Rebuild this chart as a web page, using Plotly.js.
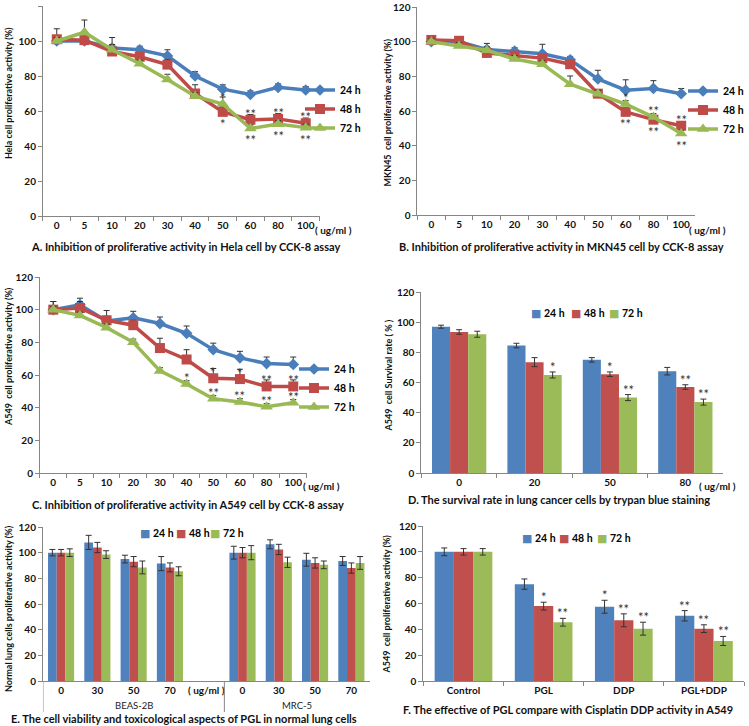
<!DOCTYPE html>
<html><head><meta charset="utf-8">
<script src="https://cdn.plot.ly/plotly-3.0.1.min.js"></script>
<style>html,body{margin:0;padding:0;background:#fff}#chart{width:749px;height:726px}</style>
</head><body><div id="chart"></div>
<script>
// ---------------- DATA ----------------
const seriesNames = ['24 h', '48 h', '72 h'];
const doses = ['0', '5', '10', '20', '30', '40', '50', '60', '80', '100'];

// A. Hela (CCK-8)
const helaVals24 = [100, 100, 96, 95, 91.5, 80, 72.5, 69.5, 73.5, 72];
const helaVals48 = [101, 100.5, 94, 91, 86.5, 70, 59.5, 55, 55.5, 53];
const helaVals72 = [100, 105, 95, 87, 78, 68.5, 64, 50, 52.5, 50.5];
const helaErr24 = [3, 2, 6, 2, 3.5, 2.5, 2.5, 2, 2, 2];
const helaErr48 = [6, 2, 2, 2, 3, 5, 3, 3, 3, 3];
const helaErr72 = [2, 7, 3, 2, 3, 2, 4, 2, 2, 2];
const helaStars = [[1, '50', '*', -1], [1, '60', '**', 1], [1, '80', '**', 1], [1, '100', '**', 1],
                   [2, '50', '*', 1], [2, '60', '**', -1], [2, '80', '**', -1], [2, '100', '**', -1]];

// B. MKN45 (CCK-8)
const mknVals24 = [100, 100, 95.5, 94.5, 93, 89.5, 78.5, 72, 73, 70];
const mknVals48 = [101, 100.5, 93.5, 92, 90.5, 87, 70, 59.5, 55, 51.5];
const mknVals72 = [100, 97.5, 95, 90, 87, 75.5, 70, 64, 56.5, 47];
const mknErr24 = [2, 2, 3.5, 2, 5.5, 2, 5, 6, 4.5, 3];
const mknErr48 = [2, 2, 2, 2, 2, 2, 2, 2, 2, 2];
const mknErr72 = [2, 2, 2, 2, 2, 4.7, 2, 2, 2, 2];
const mknStars = [[2, '60', '*', 1], [1, '60', '**', -1], [1, '80', '**', -1], [1, '100', '**', 1],
                  [2, '80', '**', 1], [2, '100', '**', -1]];

// C. A549 (CCK-8)
const a549Vals24 = [100, 103, 93, 95, 91.5, 85.5, 75.5, 70.5, 67, 66.5];
const a549Vals48 = [100, 101, 93.5, 90.5, 76.5, 69.5, 58, 57.5, 53, 53];
const a549Vals72 = [100, 96.5, 89, 80, 62.5, 54.5, 45.5, 43.5, 40.5, 43];
const a549Err24 = [5, 4, 3, 4, 4, 4.5, 4, 4, 4, 4.5];
const a549Err48 = [5, 4, 6, 3, 6, 6, 6, 6, 4, 4];
const a549Err72 = [2, 2, 2, 2, 2, 2, 2, 2, 2, 2];
const a549Stars = [[1, '50', '*', 1], [1, '60', '*', 1], [1, '80', '**', 1], [1, '100', '**', 1],
                   [2, '40', '*', 1], [2, '50', '**', 1], [2, '60', '**', 1], [2, '80', '**', 1], [2, '100', '**', 1]];

// D. Trypan blue survival
const trypanDoses = ['0', '20', '50', '80'];
const survival24 = [97, 84.5, 75, 67.5];
const survival48 = [93.5, 73.5, 65.5, 57];
const survival72 = [92, 65, 50, 47];
const survErr24 = [1, 1.5, 1.5, 2.5];
const survErr48 = [1.5, 3, 1.5, 1.5];
const survErr72 = [2, 2, 2, 2];
const survStars = [[2, '20', '*'], [1, '50', '*'], [2, '50', '**'], [1, '80', '**'], [2, '80', '**']];

// E. Normal lung cells
const normalGroups = ['BEAS-2B', 'BEAS-2B', 'BEAS-2B', 'BEAS-2B', 'BEAS-2B', 'MRC-5', 'MRC-5', 'MRC-5', 'MRC-5'];
const normalDoses = ['0', '30', '50', '70', '( ug/ml )', '0', '30', '50', '70'];
const normal24 = [100, 108, 95, 91.5, null, 100, 106.5, 94.5, 93.5];
const normal48 = [100, 104, 93, 88.5, null, 100, 102.5, 92, 88];
const normal72 = [100, 98.5, 88.5, 85.5, null, 100, 92.5, 90.5, 92];
const normalErr24 = [2.5, 5.5, 3, 5.5, 0, 5, 3.5, 5, 3.5];
const normalErr48 = [2.5, 4, 4, 3.5, 0, 4, 4, 4, 4];
const normalErr72 = [3, 3, 5, 3.5, 0, 5.5, 4, 3, 5];

// F. PGL vs DDP
const treatments = ['Control', 'PGL', 'DDP', 'PGL+DDP'];
const prolif24 = [100, 75, 57.5, 50.5];
const prolif48 = [100, 58, 47, 40.5];
const prolif72 = [100, 45.5, 40.5, 31];
const prolifErr24 = [3, 4, 5, 4];
const prolifErr48 = [2.5, 3, 5, 3];
const prolifErr72 = [2.5, 3, 5, 3.5];
const prolifStars = [[1, 'PGL', '*'], [2, 'PGL', '**'], [0, 'DDP', '*'], [1, 'DDP', '**'], [2, 'DDP', '**'],
                     [0, 'PGL+DDP', '**'], [1, 'PGL+DDP', '**'], [2, 'PGL+DDP', '**']];

// ---------------- STYLE / LAYOUT ----------------
const W = 749, H = 726;
const px = v => v / W, py = v => 1 - v / H;
const lineColors = ['#4A7EBB', '#BE4B48', '#98B954'];
const barColors = ['#4F81BD', '#C0504D', '#9BBB59'];
const symbols = ['diamond', 'square', 'triangle-up'];
const msizes = [9, 10, 11];
const FONT = 'Lato, "Open Sans", "DejaVu Sans", sans-serif';
const bold = (size, color) => ({family: FONT, size: size, color: color || '#111', weight: 700});
const BARGAP = 0.28;

// unique category keys for panel E (group + dose), shown with the dose text
const normalKeys = normalGroups.map((g, i) => g + '|' + normalDoses[i]);

// plot areas in pixels: [x0, x1], [yTop, yBottom]
const areas = {
  A: {xa: 'x',  ya: 'y',  x: [43, 320],  y: [6, 216],   n: doses.length},
  B: {xa: 'x2', ya: 'y2', x: [418, 696], y: [7, 215],   n: doses.length},
  C: {xa: 'x3', ya: 'y3', x: [40, 307],  y: [277, 473], n: doses.length},
  D: {xa: 'x4', ya: 'y4', x: [422, 724], y: [292, 473], n: trypanDoses.length},
  E: {xa: 'x5', ya: 'y5', x: [43, 370],  y: [527, 681], n: normalKeys.length},
  F: {xa: 'x6', ya: 'y6', x: [424, 745], y: [526, 681], n: treatments.length}
};

const traces = [];
function lineTraces(area, legendId, vals, errs) {
  vals.forEach((v, i) => traces.push({
    type: 'scatter', mode: 'lines+markers', x: doses, y: v, name: seriesNames[i],
    xaxis: area.xa, yaxis: area.ya, legend: legendId,
    line: {color: lineColors[i], width: 3.5},
    marker: {symbol: symbols[i], size: msizes[i], color: lineColors[i]},
    error_y: {type: 'data', symmetric: false, array: errs[i], arrayminus: errs[i].map(() => 0),
              color: '#333', thickness: 1, width: 3},
    cliponaxis: false, hoverinfo: 'skip'
  }));
}
function barTraces(area, x, vals, errs) {
  vals.forEach((v, i) => traces.push({
    type: 'bar', x: x, y: v, name: seriesNames[i], xaxis: area.xa, yaxis: area.ya, showlegend: false,
    marker: {color: barColors[i], line: {width: 0}},
    error_y: {type: 'data', array: errs[i], color: '#333', thickness: 1, width: 3},
    hoverinfo: 'skip'
  }));
}
lineTraces(areas.A, 'legend', [helaVals24, helaVals48, helaVals72], [helaErr24, helaErr48, helaErr72]);
lineTraces(areas.B, 'legend2', [mknVals24, mknVals48, mknVals72], [mknErr24, mknErr48, mknErr72]);
lineTraces(areas.C, 'legend3', [a549Vals24, a549Vals48, a549Vals72], [a549Err24, a549Err48, a549Err72]);
barTraces(areas.D, trypanDoses, [survival24, survival48, survival72], [survErr24, survErr48, survErr72]);
barTraces(areas.E, normalKeys, [normal24, normal48, normal72], [normalErr24, normalErr48, normalErr72]);
barTraces(areas.F, treatments, [prolif24, prolif48, prolif72], [prolifErr24, prolifErr48, prolifErr72]);

const annotations = [];
function ann(xPx, yPx, text, font, extra) {
  annotations.push(Object.assign({xref: 'paper', yref: 'paper', x: px(xPx), y: py(yPx), text: text,
    showarrow: false, xanchor: 'center', yanchor: 'middle', font: font}, extra || {}));
}
// y-axis titles
ann(8, 93, 'Hela cell proliferative activity (%)', bold(9), {textangle: -90});
ann(388, 112, 'MKN45  cell proliferative activity (%)', bold(9), {textangle: -90});
ann(8, 356, 'A549  cell proliferative activity (%)', bold(9), {textangle: -90});
ann(390, 375, 'A549  cell Survival rate ( % )', bold(9), {textangle: -90});
ann(8, 608, 'Normal lung cells proliferative activity (%)', bold(9), {textangle: -90});
ann(387, 604, 'A549  cell proliferative activity (%)', bold(9), {textangle: -90});
// captions
ann(186, 246, 'A. Inhibition of proliferative activity in Hela cell by CCK-8 assay', bold(11));
ann(562, 246, 'B. Inhibition of proliferative activity in MKN45 cell by CCK-8 assay', bold(11));
ann(188, 504, 'C. Inhibition of proliferative activity in A549 cell by CCK-8 assay', bold(11));
ann(560, 499, 'D. The survival rate in lung cancer cells by trypan blue staining', bold(11));
ann(184, 718, 'E. The cell viability and toxicological aspects of PGL in normal lung cells', bold(11));
ann(569, 709, 'F. The effective of PGL compare with Cisplatin DDP activity in A549', bold(11));
// unit labels
ann(334, 230, '( ug/ml )', bold(10));
ann(708, 230, '( ug/ml )', bold(10));
ann(322, 486, '( ug/ml )', bold(10));
ann(718, 486, '( ug/ml )', bold(10));

// bar chart legends
function barLegend(markers, yPx) {
  seriesNames.forEach((n, i) => ann(markers[i] - 4, yPx,
    '<span style="color:' + barColors[i] + ';font-size:11px">■</span> ' + n, bold(10.5, '#000'), {xanchor: 'left'}));
}
barLegend([534, 574, 612], 312);
barLegend([142, 178, 212], 532);
barLegend([525, 562, 600], 537);

// panel E group labels and dividers
const shapes = [];
const groupNames = normalGroups.filter((g, i) => normalGroups.indexOf(g) === i);
groupNames.forEach(g => {
  const idx = normalGroups.map((v, i) => v === g ? i : -1).filter(i => i >= 0);
  const mid = (idx[0] + idx[idx.length - 1]) / 2;
  annotations.push({xref: areas.E.xa, yref: 'paper', x: mid, y: py(705), text: g, showarrow: false,
    xanchor: 'center', yanchor: 'middle', font: {family: FONT, size: 9.5, color: '#222'}});
  shapes.push({type: 'line', xref: areas.E.xa, yref: 'paper', x0: idx[0] - 0.5, x1: idx[0] - 0.5,
    y0: py(681), y1: py(712), line: {color: '#868686', width: 1}});
});

// significance stars (x given as category index)
const starFont = {family: FONT, size: 13, color: '#333'};
function lineStars(area, vals, stars) {
  stars.forEach(([s, d, t, dir]) => {
    const k = doses.indexOf(d);
    annotations.push({
      xref: area.xa, yref: area.ya, x: k, y: vals[s][k], text: t, showarrow: false,
      xanchor: 'center', yanchor: 'middle', yshift: dir > 0 ? 6 : -12, font: starFont
    });
  });
}
lineStars(areas.A, [helaVals24, helaVals48, helaVals72], helaStars);
lineStars(areas.B, [mknVals24, mknVals48, mknVals72], mknStars);
lineStars(areas.C, [a549Vals24, a549Vals48, a549Vals72], a549Stars);
function barStars(area, cats, vals, errs, stars) {
  const slot = (area.x[1] - area.x[0]) / cats.length;
  const barPx = slot * (1 - BARGAP) / 3;
  stars.forEach(([s, c, t]) => {
    const k = cats.indexOf(c);
    annotations.push({xref: area.xa, yref: area.ya, x: k, y: vals[s][k] + errs[s][k], text: t, showarrow: false,
      xanchor: 'center', yanchor: 'middle', xshift: (s - 1) * barPx, yshift: 5, font: starFont});
  });
}
barStars(areas.D, trypanDoses, [survival24, survival48, survival72], [survErr24, survErr48, survErr72], survStars);
barStars(areas.F, treatments, [prolif24, prolif48, prolif72], [prolifErr24, prolifErr48, prolifErr72], prolifStars);

// axes
const tickFont = bold(10, '#111');
const axBase = {showline: true, linecolor: '#868686', linewidth: 1, ticks: 'outside', ticklen: 4,
                tickcolor: '#868686', showgrid: false, zeroline: false, tickfont: tickFont, fixedrange: true};
const layout = {
  width: W, height: H, margin: {l: 0, r: 0, t: 0, b: 0}, autosize: false,
  paper_bgcolor: '#fff', plot_bgcolor: '#fff', showlegend: true,
  barmode: 'group', bargap: BARGAP, bargroupgap: 0,
  font: {family: FONT, color: '#111'},
  annotations: annotations, shapes: shapes
};
const keys = ['A', 'B', 'C', 'D', 'E', 'F'];
keys.forEach((k, i) => {
  const a = areas[k], n = i === 0 ? '' : String(i + 1);
  const xa = Object.assign({}, axBase, {
    domain: [px(a.x[0]), px(a.x[1])], anchor: a.ya, type: 'category', tickson: 'boundaries',
    range: [-0.5, a.n - 0.5], tickangle: 0, automargin: false
  });
  if (k === 'E') Object.assign(xa, {ticks: '', tickmode: 'array', tickvals: normalKeys, ticktext: normalDoses,
                                    categoryorder: 'array', categoryarray: normalKeys});
  layout['xaxis' + n] = xa;
  layout['yaxis' + n] = Object.assign({}, axBase, {
    domain: [py(a.y[1]), py(a.y[0])], anchor: a.xa, range: [0, 120], dtick: 20
  });
});
function lineLegend(xLeftPx, yMidPx) {
  return {x: px(xLeftPx), y: py(yMidPx), xanchor: 'left', yanchor: 'middle', orientation: 'v',
          bgcolor: 'rgba(0,0,0,0)', borderwidth: 0, font: bold(10.5, '#000'), traceorder: 'normal',
          itemclick: false, itemdoubleclick: false};
}
layout.legend = lineLegend(300, 109);
layout.legend2 = lineLegend(684, 110);
layout.legend3 = lineLegend(294, 388);

Plotly.newPlot('chart', traces, layout, {staticPlot: true, displayModeBar: false});
</script>
</body></html>
